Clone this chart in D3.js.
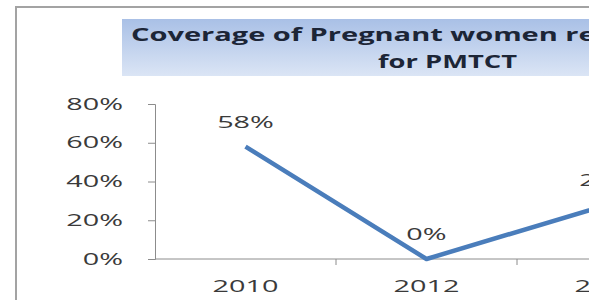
<html>
<head>
<style>
  body { margin: 0; background: #fff; }
  svg { display: block; }
  .lbl { font-family: "Open Sans", sans-serif; font-size: 16px; fill: #3a3a3a; }
  .ttl { font-family: "Open Sans", sans-serif; font-weight: bold; font-size: 17px; fill: #1c2536; }
</style>
</head>
<body>
<svg width="589" height="300"></svg>
<script src="https://d3js.org/d3.v7.min.js"></script>
<script>
// data
let years = ["2010", "2012", "2014"]
let coverage = [0.58, 0.00, 0.28]
let yTicks = [0, 0.2, 0.4, 0.6, 0.8]
let titleLines = ["Coverage of Pregnant women receiving ARV", "for PMTCT"]

let sx = 1.8   // the source picture is stretched sideways
let svg = d3.select("svg")

let x = d3.scaleBand()
    .domain(years)
    .range([155, 698])
    .padding(0)

let y = d3.scaleLinear()
    .domain([0, 0.8])
    .range([259, 104])

// outer chart frame
svg.append("path")
    .attr("d", "M16,300 V7 H589")
    .attr("fill", "none")
    .attr("stroke", "#a3a3a3")
    .attr("stroke-width", 2)

// title box with gradient
let grad = svg.append("defs").append("linearGradient")
    .attr("id", "tg").attr("x1", 0).attr("y1", 0).attr("x2", 0).attr("y2", 1)
grad.append("stop").attr("offset", "0%").attr("stop-color", "#a9c0e6")
grad.append("stop").attr("offset", "100%").attr("stop-color", "#dbe5f5")

svg.append("rect")
    .attr("x", 122).attr("y", 19)
    .attr("width", 480).attr("height", 57)
    .attr("fill", "url(#tg)")

svg.append("text")
    .attr("class", "ttl")
    .attr("x", 131).attr("y", 41)
    .attr("textLength", 632)
    .attr("lengthAdjust", "spacingAndGlyphs")
    .text(titleLines[0])

svg.append("text")
    .attr("class", "ttl")
    .attr("x", 378).attr("y", 68)
    .attr("textLength", 139)
    .attr("lengthAdjust", "spacingAndGlyphs")
    .text(titleLines[1])

// y axis
let yAxis = svg.append("g")
    .attr("transform", "translate(155,0)")
    .call(d3.axisLeft(y).tickValues(yTicks).tickSize(7).tickFormat(d3.format(".0%")))
yAxis.selectAll("path, line").attr("stroke", "#8c8c8c")
yAxis.selectAll("text")
    .attr("class", "lbl")
    .attr("font-size", null).attr("font-family", null)
    .attr("x", -32 / sx)
    .attr("transform", `scale(${sx},1)`)

// x axis, ticks on the category borders
let xAxis = svg.append("g")
    .attr("transform", "translate(0,259)")
xAxis.append("line")
    .attr("x1", x.range()[0]).attr("x2", x.range()[1])
    .attr("stroke", "#8c8c8c")
xAxis.selectAll(".tk")
    .data(years.slice(1))
    .join("line")
    .attr("x1", d => x(d)).attr("x2", d => x(d))
    .attr("y1", 0).attr("y2", 6)
    .attr("stroke", "#8c8c8c")
xAxis.selectAll(".xl")
    .data(years)
    .join("text")
    .attr("class", "lbl")
    .attr("text-anchor", "middle")
    .attr("transform", d => `translate(${x(d) + x.bandwidth() / 2},33) scale(${sx},1)`)
    .text(d => d)

// the line
let pts = years.map((d, i) => ({year: d, v: coverage[i]}))
let line = d3.line()
    .x(d => x(d.year) + x.bandwidth() / 2)
    .y(d => y(d.v))

svg.append("path")
    .datum(pts)
    .attr("d", line)
    .attr("fill", "none")
    .attr("stroke", "#4a7dbb")
    .attr("stroke-width", 4.5)
    .attr("stroke-linejoin", "round")

svg.selectAll(".dl")
    .data(pts)
    .join("text")
    .attr("class", "lbl")
    .attr("text-anchor", "middle")
    .attr("transform", d => `translate(${x(d.year) + x.bandwidth() / 2},${y(d.v) - 19}) scale(${sx},1)`)
    .text(d => d3.format(".0%")(d.v))
</script>
</body>
</html>
